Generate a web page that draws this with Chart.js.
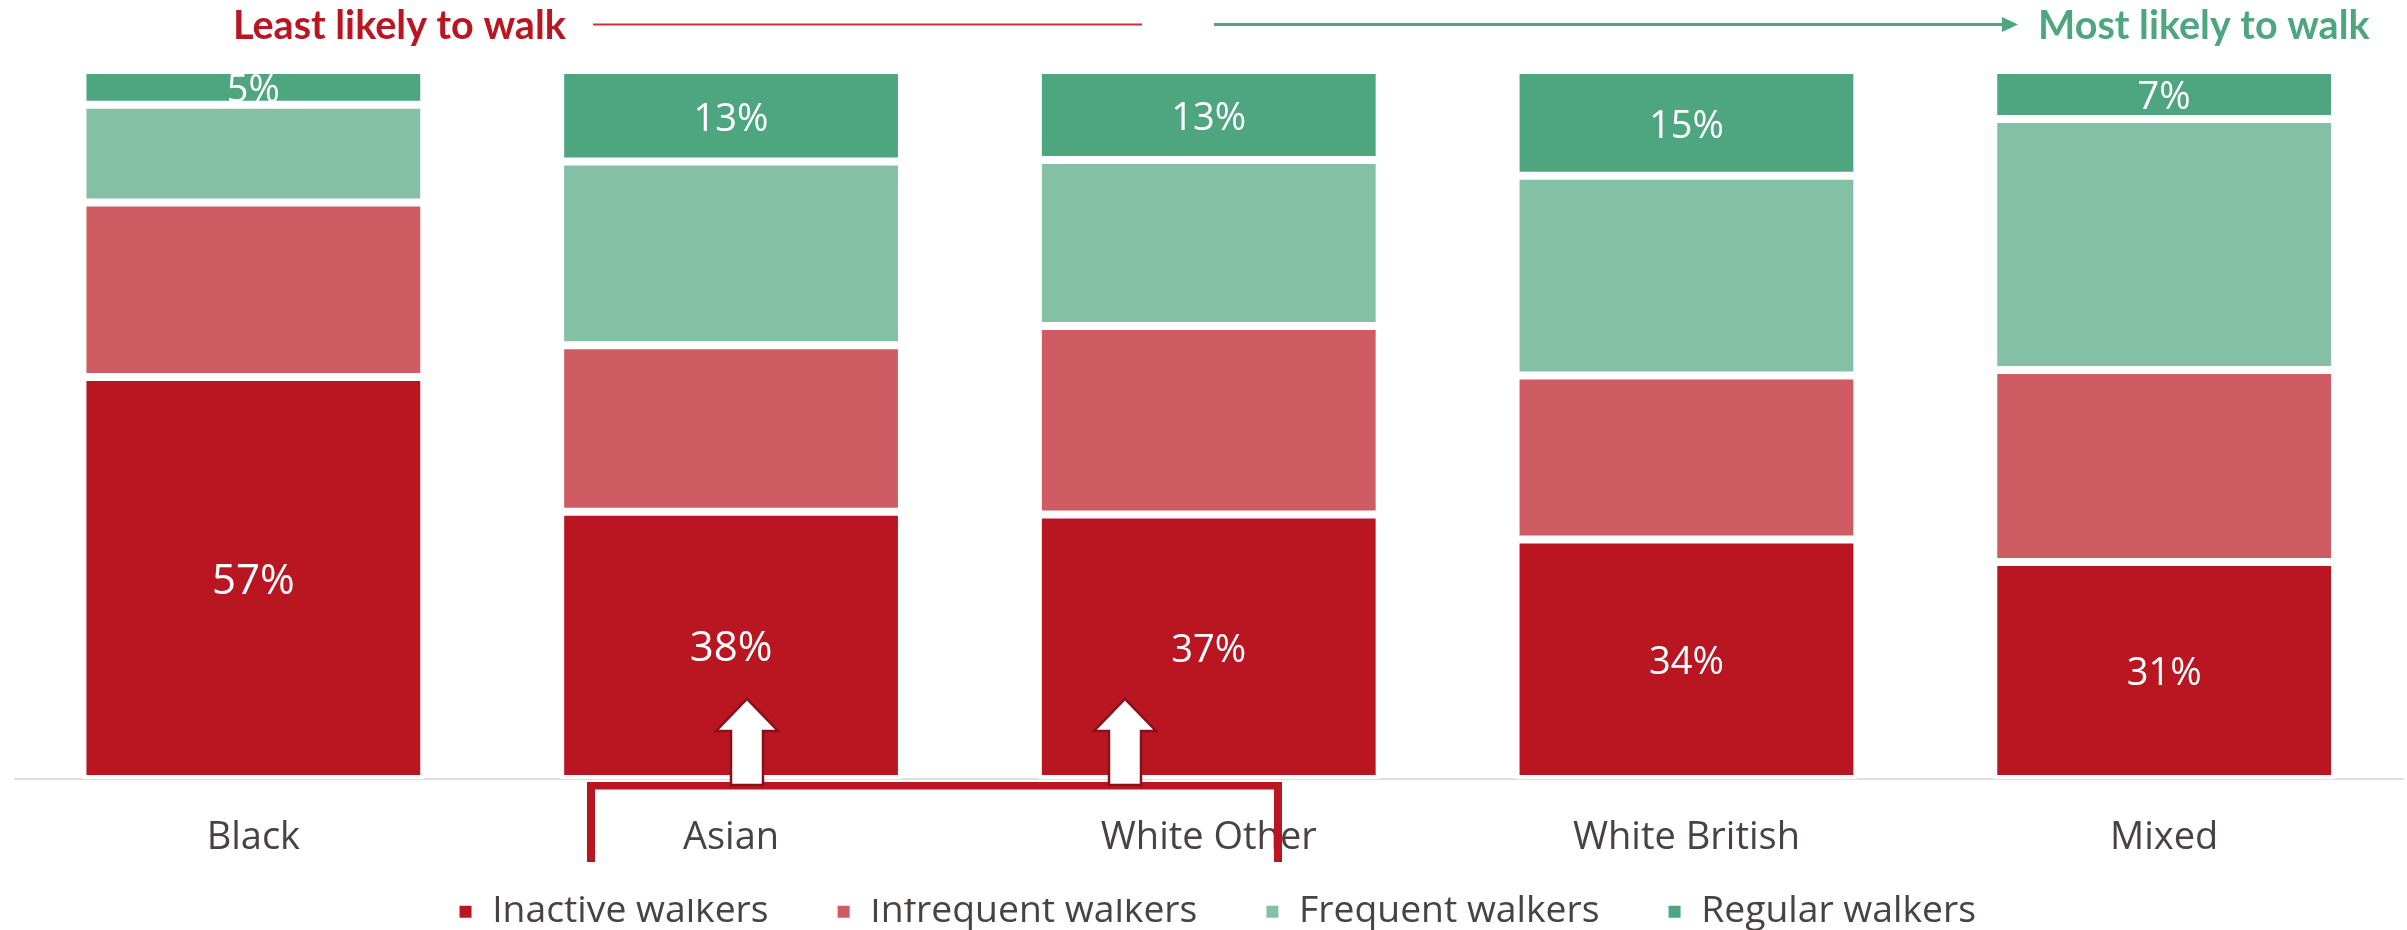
<!DOCTYPE html>
<html>
<head>
<meta charset="utf-8">
<script src="https://cdn.jsdelivr.net/npm/chart.js@4"></script>
<style>
html,body{margin:0;padding:0;background:#fff;overflow:hidden}
#wrap{position:relative;width:2407px;height:930px}
</style>
</head>
<body>
<div id="wrap"><canvas id="c"></canvas></div>
<script>
const categories = ["Black", "Asian", "White Other", "White British", "Mixed"];
const inactive   = [56.7, 37.7, 37.3, 33.8, 30.6];
const infrequent = [24.6, 23.5, 26.6, 23.1, 27.1];
const frequent   = [13.8, 25.9, 23.4, 28.2, 35.4];
const regular    = [4.9, 12.9, 12.7, 14.9, 6.9];
const seriesNames = ["Inactive walkers", "Infrequent walkers", "Frequent walkers", "Regular walkers"];
const seriesColors = ["#BA1622", "#D05C63", "#83C0A5", "#4DA680"];
const labelledSeries = [0, 3];
const leftCaption = "Least likely to walk";
const rightCaption = "Most likely to walk";

const TEXT = "#4A4143";
const FONT = "'Open Sans', sans-serif";

function blockArrow(ctx, cx) {
  ctx.beginPath();
  ctx.moveTo(cx, 699);
  ctx.lineTo(cx + 31, 731);
  ctx.lineTo(cx + 16, 731);
  ctx.lineTo(cx + 16, 785);
  ctx.lineTo(cx - 16, 785);
  ctx.lineTo(cx - 16, 731);
  ctx.lineTo(cx - 31, 731);
  ctx.closePath();
  ctx.fillStyle = "#fff";
  ctx.fill();
  ctx.lineWidth = 2.5;
  ctx.strokeStyle = "#87101A";
  ctx.stroke();
}

const overlay = {
  id: "overlay",
  afterLayout(chart) {
    const l = chart.legend;
    l.left += 8; l.right += 8;
    const h = l.bottom - l.top;
    l.top = 826; l.bottom = 826 + h;
  },
  afterDraw(chart) {
    const ctx = chart.ctx;
    ctx.save();
    // value labels
    ctx.textAlign = "center";
    ctx.textBaseline = "middle";
    ctx.fillStyle = "#fff";
    labelledSeries.forEach(ds => {
      chart.getDatasetMeta(ds).data.forEach((bar, i) => {
        const v = chart.data.datasets[ds].data[i];
        ctx.font = (ds === 0 && i < 2 ? 42 : 38) + "px " + FONT;
        ctx.fillText(Math.round(v) + "%", bar.x, (bar.y + bar.base) / 2 + 4);
      });
    });
    // bracket under the axis
    ctx.fillStyle = "#fff";
    ctx.fillRect(595, 862, 690, 37);
    ctx.fillStyle = "#BA1622";
    ctx.fillRect(587, 782, 695, 7.5);
    ctx.fillRect(587, 782, 8, 80);
    ctx.fillRect(1274, 782, 8, 80);
    blockArrow(ctx, 747);
    blockArrow(ctx, 1125);
    // top captions and arrows
    ctx.textBaseline = "alphabetic";
    ctx.textAlign = "left";
    ctx.font = "bold 39.5px Lato, sans-serif";
    ctx.fillStyle = "#BA1622";
    ctx.fillText(leftCaption, 233, 39);
    ctx.fillStyle = "#4DA680";
    ctx.fillText(rightCaption, 2038, 39);
    ctx.fillStyle = "#C8323C";
    ctx.fillRect(593, 23.5, 549, 2);
    ctx.fillStyle = "#4DA680";
    ctx.fillRect(1214, 23, 790, 3);
    ctx.beginPath();
    ctx.moveTo(2018, 24.5);
    ctx.lineTo(2002, 17);
    ctx.lineTo(2002, 32);
    ctx.closePath();
    ctx.fill();
    ctx.restore();
  }
};

new Chart(document.getElementById("c"), {
  type: "bar",
  data: {
    labels: categories,
    datasets: [inactive, infrequent, frequent, regular].map((d, i) => ({
      label: seriesNames[i],
      data: d,
      backgroundColor: seriesColors[i],
      borderColor: "#fff",
      borderWidth: 4,
      borderSkipped: false,
      barPercentage: 1,
      categoryPercentage: 0.7155
    }))
  },
  options: {
    responsive: true,
    maintainAspectRatio: false,
    animation: false,
    layout: { padding: { left: 14.5, right: 4, top: 70, bottom: -73 } },
    plugins: {
      tooltip: { enabled: false },
      legend: {
        position: "bottom",
        labels: {
          boxWidth: 16, boxHeight: 16, padding: 67,
          color: TEXT,
          font: { family: FONT, size: 37.3 }
        }
      }
    },
    scales: {
      x: {
        stacked: true,
        grid: { display: false },
        border: { display: true, color: "#E2DDDE", width: 2 },
        ticks: { color: TEXT, padding: 28, maxRotation: 0, autoSkip: false, font: { family: FONT, size: 38 } }
      },
      y: {
        stacked: true, min: 0, max: 100, display: false
      }
    }
  },
  plugins: [overlay]
});
</script>
</body>
</html>
